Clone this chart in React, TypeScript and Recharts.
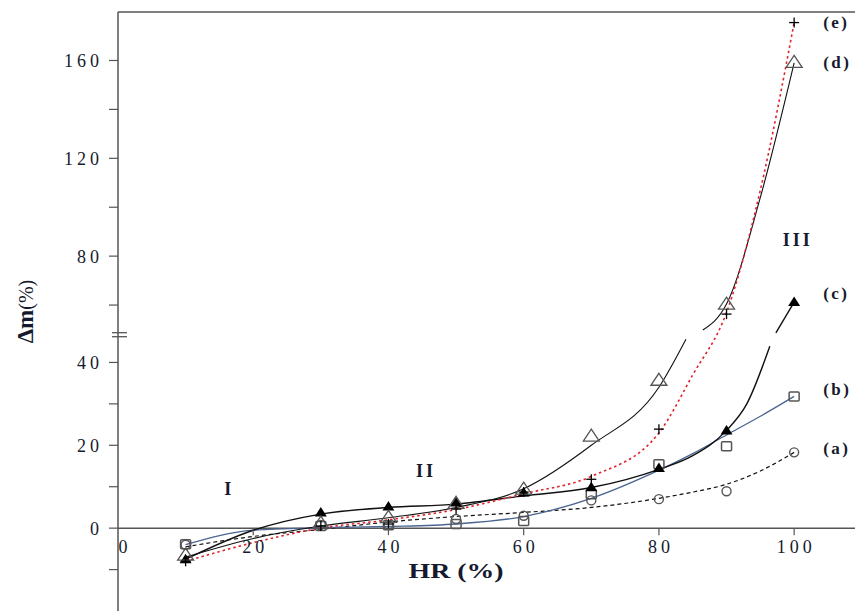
import React from 'react';
import {
  ComposedChart,
  Line,
  Scatter,
  XAxis,
  YAxis,
  ReferenceLine,
  ReferenceDot,
} from 'recharts';

// measured points (HR %, Δm %)
const HR_PTS = [10, 30, 40, 50, 60, 70, 80, 90, 100];
const A_PTS = [-4, 0.8, 0.8, 2.2, 3, 6.7, 7, 8.9, 18.3];
const B_PTS = [-3.9, 0.5, 0.7, 1, 1.7, 8.2, 15.4, 19.8, 31.8];
const C_PTS = [-7.5, 3.8, 5.2, 6.2, 8.6, 9.9, 14.5, 23.6, 61.2];
const D_PTS = [-6.5, 1.2, 2.6, 6, 9.4, 22.2, 35.7, 60.4, 159.2];
const E_PTS = [-8, 0.5, 1, 4.6, 8.7, 11.8, 23.9, 56.3, 175.5];

// fitted curves (c and d are broken where they cross the axis break)
const HR_FIT = [10, 20, 30, 40, 50, 60, 70, 80, 85, 90, 95, 100];
const A_FIT = [-4.5, -2, -0.3, 1.5, 2.8, 3.8, 5, 7.2, 8.7, 10.6, 13.8, 18.3];
const B_FIT = [-4, -0.5, 0.1, 0.4, 1, 2.8, 7.2, 14, 18, 22.5, 27, 31.8];
const E_FIT = [-8, -3.5, 0, 2, 4.5, 8.3, 12.5, 23, 37, 57, 107, 175.5];

const C_HR_LO = [10, 20, 30, 40, 50, 60, 70, 80, 85, 90, 93, 96.4];
const C_FIT_LO = [-7.5, -0.5, 3.4, 5, 5.8, 7.8, 9.8, 14.2, 17.5, 23.6, 30, 43.9];
const C_HR_HI = [97.3, 100];
const C_FIT_HI = [48.6, 61.2];

const D_HR_LO = [10, 20, 30, 40, 50, 60, 70, 80, 84];
const D_FIT_LO = [-7, -2.5, 0.5, 2.5, 5, 9.5, 20, 34, 46];
const D_HR_HI = [86.5, 90, 95, 100];
const D_FIT_HI = [49.8, 60.4, 104, 159];

const X_TICKS = [0, 20, 40, 60, 80, 100];
const Y_TICKS_REAL = [-10, 0, 10, 20, 30, 40, 60, 80, 100, 120, 140, 160];
const Y_LABELED = [0, 20, 40, 80, 120, 160];

const SERIES_LABELS = ['(a)', '(b)', '(c)', '(d)', '(e)'];
const SERIES_LABEL_AT = [19, 33.3, 64.5, 159, 175.5];

const REGION_LABELS = ['I', 'II', 'III'];
const REGION_HR = [16.3, 45.4, 100.4];
const REGION_AT = [9.4, 13.7, 86.7];

// broken y axis: above BREAK the scale is compressed
const BREAK = 45;
const UPPER_K = 0.5904;
const toDisp = (v: number) => (v <= BREAK ? v : BREAK + (v - BREAK) * UPPER_K);
const fromDisp = (d: number) => (d <= BREAK ? d : BREAK + (d - BREAK) / UPPER_K);
const BREAK_MARK = 46.7;

const rows = (hr: number[], vals: number[]) => hr.map((h, i) => ({ hr: h, y: toDisp(vals[i]) }));

const FONT = '"Liberation Serif", "Times New Roman", serif';
const TXT = '#151a2e';

const circleShape = (p: any) => (
  <circle cx={p.cx} cy={p.cy} r={4.5} fill="none" stroke="#555" strokeWidth={1.4} />
);
const squareShape = (p: any) => (
  <rect x={p.cx - 5} y={p.cy - 4.5} width={10} height={9} rx={1} fill="none" stroke="#555" strokeWidth={1.5} />
);
const filledTriShape = (p: any) => (
  <path d={`M${p.cx},${p.cy - 5.5} L${p.cx + 6},${p.cy + 4} L${p.cx - 6},${p.cy + 4} Z`} fill="#000" />
);
const openTriShape = (p: any) => (
  <path
    d={`M${p.cx},${p.cy - 7} L${p.cx + 8},${p.cy + 5} L${p.cx - 8},${p.cy + 5} Z`}
    fill="none"
    stroke="#555"
    strokeWidth={1.3}
  />
);
const plusShape = (p: any) => (
  <g stroke="#000" strokeWidth={1.3}>
    <line x1={p.cx - 5} y1={p.cy} x2={p.cx + 5} y2={p.cy} />
    <line x1={p.cx} y1={p.cy - 5} x2={p.cx} y2={p.cy + 5} />
  </g>
);

const YLabel = (props: any) => {
  const vb = props.viewBox || { x: 0, y: 0, width: 0, height: 0 };
  const x = vb.x + 33;
  const y = vb.y + vb.height / 2;
  return (
    <text
      x={x}
      y={y}
      transform={`rotate(-90, ${x}, ${y})`}
      textAnchor="middle"
      fontFamily={FONT}
      fontSize={23}
      fill={TXT}
    >
      <tspan fontWeight="bold">Δm</tspan>
      <tspan fontSize={20}>(%)</tspan>
    </text>
  );
};

export default function App() {
  const curves = [
    { data: rows(HR_FIT, A_FIT), stroke: '#111', dash: '4 3', width: 1.2 },
    { data: rows(HR_FIT, B_FIT), stroke: '#4a6591', dash: undefined, width: 1.3 },
    { data: rows(C_HR_LO, C_FIT_LO), stroke: '#111', dash: undefined, width: 1.4 },
    { data: rows(C_HR_HI, C_FIT_HI), stroke: '#111', dash: undefined, width: 1.4 },
    { data: rows(D_HR_LO, D_FIT_LO), stroke: '#111', dash: undefined, width: 1.1 },
    { data: rows(D_HR_HI, D_FIT_HI), stroke: '#111', dash: undefined, width: 1.1 },
    { data: rows(HR_FIT, E_FIT), stroke: '#e0202a', dash: '2.5 3', width: 1.6 },
  ];
  const markers = [
    { pts: A_PTS, shape: circleShape },
    { pts: B_PTS, shape: squareShape },
    { pts: C_PTS, shape: filledTriShape },
    { pts: D_PTS, shape: openTriShape },
    { pts: E_PTS, shape: plusShape },
  ];

  return (
    <div style={{ position: 'absolute', left: 0, top: 0, width: 855, height: 611, background: '#fff' }}>
      <ComposedChart width={855} height={611} margin={{ top: 0, right: 0, bottom: 0, left: 0 }}>
        <XAxis
          dataKey="hr"
          type="number"
          domain={[0, 109]}
          orientation="top"
          height={12}
          tick={false}
          tickLine={false}
          axisLine={{ stroke: '#555', strokeWidth: 1.5 }}
          allowDataOverflow
        />
        <YAxis
          type="number"
          domain={[-20, 124.6]}
          ticks={Y_TICKS_REAL.map(toDisp)}
          interval={0}
          width={118}
          tickSize={9}
          tickMargin={6}
          allowDataOverflow
          axisLine={{ stroke: '#555', strokeWidth: 1.5 }}
          tickLine={{ stroke: '#555', strokeWidth: 1.2 }}
          tick={{ fontFamily: FONT, fontSize: 18, fill: TXT, letterSpacing: 4 }}
          tickFormatter={(d: number) => {
            const v = Math.round(fromDisp(d));
            return Y_LABELED.includes(v) ? String(v) : '';
          }}
          label={{ content: <YLabel /> }}
        />
        <ReferenceLine y={0} stroke="#555" strokeWidth={1.5} />

        {curves.map((c, i) => (
          <Line
            key={`fit${i}`}
            data={c.data}
            dataKey="y"
            type="monotone"
            stroke={c.stroke}
            strokeWidth={c.width}
            strokeDasharray={c.dash}
            dot={false}
            activeDot={false}
            isAnimationActive={false}
          />
        ))}
        {markers.map((m, i) => (
          <Scatter
            key={`pts${i}`}
            data={rows(HR_PTS, m.pts)}
            dataKey="y"
            shape={m.shape}
            isAnimationActive={false}
          />
        ))}

        {X_TICKS.map((t) => (
          <ReferenceDot
            key={`xt${t}`}
            x={t}
            y={0}
            r={0}
            shape={(p: any) => (
              <g>
                {t !== 0 && <line x1={p.cx} y1={p.cy} x2={p.cx} y2={p.cy + 7} stroke="#555" strokeWidth={1.2} />}
                <text
                  x={p.cx + (t === 0 ? 7 : 2)}
                  y={p.cy + 25}
                  textAnchor="middle"
                  fontFamily={FONT}
                  fontSize={18}
                  letterSpacing={4}
                  fill={TXT}
                >
                  {t}
                </text>
              </g>
            )}
          />
        ))}

        <ReferenceDot
          x={0}
          y={BREAK_MARK}
          r={0}
          shape={(p: any) => (
            <g stroke="#555" strokeWidth={1.3}>
              <line x1={p.cx - 6} y1={p.cy - 2} x2={p.cx + 9} y2={p.cy - 2} />
              <line x1={p.cx - 6} y1={p.cy + 2} x2={p.cx + 9} y2={p.cy + 2} />
            </g>
          )}
        />

        <ReferenceDot
          x={50}
          y={-10.4}
          r={0}
          shape={(p: any) => (
            <text
              x={p.cx}
              y={p.cy + 7}
              textAnchor="middle"
              fontFamily={FONT}
              fontWeight="bold"
              fontSize={21}
              textLength={95}
              lengthAdjust="spacingAndGlyphs"
              fill={TXT}
            >
              HR (%)
            </text>
          )}
        />

        {REGION_LABELS.map((r, i) => (
          <ReferenceDot
            key={r}
            x={REGION_HR[i]}
            y={toDisp(REGION_AT[i])}
            r={0}
            shape={(p: any) => (
              <text
                x={p.cx + 1}
                y={p.cy + 6}
                textAnchor="middle"
                fontFamily={FONT}
                fontWeight="bold"
                fontSize={18}
                letterSpacing={3}
                fill={TXT}
              >
                {r}
              </text>
            )}
          />
        ))}

        {SERIES_LABELS.map((l, i) => (
          <ReferenceDot
            key={l}
            x={100}
            y={toDisp(SERIES_LABEL_AT[i])}
            r={0}
            shape={(p: any) => (
              <text
                x={p.cx + 29}
                y={p.cy + 5}
                textAnchor="start"
                fontFamily={FONT}
                fontWeight="bold"
                fontSize={17}
                letterSpacing={2.5}
                fill={TXT}
              >
                {l}
              </text>
            )}
          />
        ))}
      </ComposedChart>
    </div>
  );
}
